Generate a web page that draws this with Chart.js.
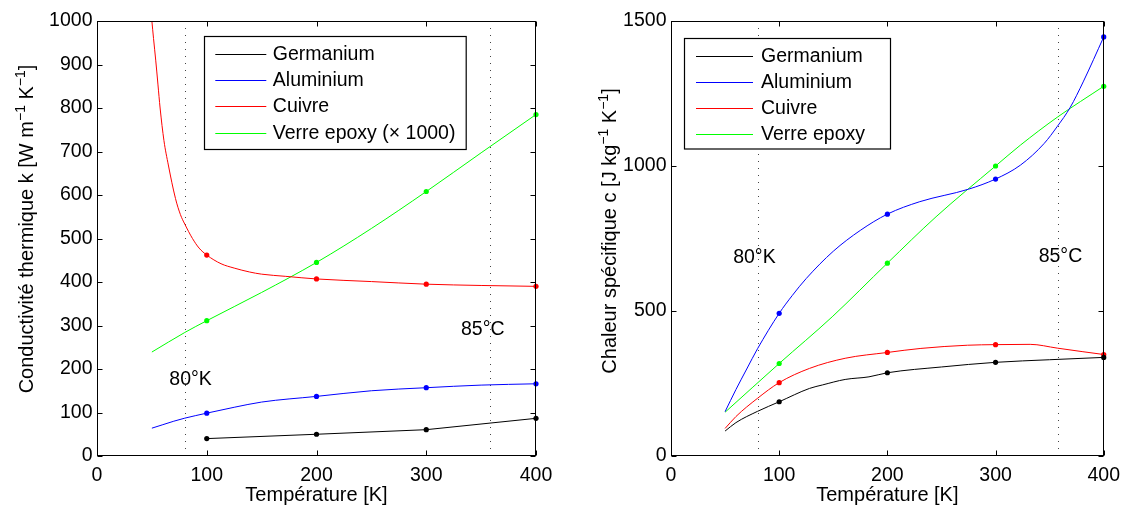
<!DOCTYPE html>
<html><head><meta charset="utf-8">
<script src="https://cdn.jsdelivr.net/npm/chart.js@4.4.1/dist/chart.umd.min.js"></script>
<style>
html,body{margin:0;padding:0;background:#fff;width:1128px;height:507px;overflow:hidden}
canvas{position:absolute;top:0}
#c1{left:0}
#c2{left:564px}
</style></head><body>
<canvas id="c1" width="564" height="507"></canvas>
<canvas id="c2" width="564" height="507"></canvas>
<script>
// ---------- DATA ----------
const xTicks = [0, 100, 200, 300, 400];
const markerT = [100, 200, 300, 400];
const refLinesT = [80, 358.15];

const legendLeft = ['Germanium', 'Aluminium', 'Cuivre', 'Verre epoxy (\u00d7 1000)'];
const legendRight = ['Germanium', 'Aluminium', 'Cuivre', 'Verre epoxy'];

const xTitle = 'Température [K]';
// y titles as [text, isSuperscript] pieces
const yTitleLeft  = [['Conductivité thermique k [W m', false], ['\u22121', true], [' K', false], ['\u22121', true], [']', false]];
const yTitleRight = [['Chaleur spécifique c [J kg', false], ['\u22121', true], [' K', false], ['\u22121', true], [']', false]];

// Left chart: thermal conductivity k
const kGeT = [100, 200, 300, 400];
const kGe  = [40, 50, 60.5, 86.6];
const kAlT = [50, 60, 70, 80, 100, 125, 150, 200, 250, 300, 350, 400];
const kAl  = [64, 72, 80, 87, 98.5, 112, 124, 137, 150, 157, 163, 166];
const kCuT = [50, 51.5, 53.5, 55.5, 57.5, 61, 65, 71.5, 76, 80, 87, 93, 100, 113, 125, 139, 150, 172, 200, 250, 300, 350, 400];
const kCu  = [1000, 960, 910, 855, 800, 725, 669, 592, 555, 533, 500, 478, 462, 442, 432, 423, 418, 413, 407, 401, 395, 392, 390];
const kEpT = [50, 80, 100, 150, 200, 250, 300, 350, 400];
const kEp  = [239, 284, 311, 376, 445, 523, 608, 697, 785];

// Right chart: specific heat c
const cGeT = [50, 60, 80, 100, 128, 140, 161, 183, 200, 250, 300, 350, 400];
const cGe  = [86, 115, 154, 187, 233, 245, 264, 273, 287, 307, 323, 332, 340];
const cAlT = [50, 60, 70, 80, 100, 112, 125, 150, 175, 200, 230, 275, 300, 323, 345, 357, 369, 381, 400];
const cAl  = [153, 229, 300, 370, 492, 553, 612, 706, 778, 834, 877, 920, 955, 1003, 1078, 1136, 1202, 1290, 1445];
const cCuT = [50, 60, 80, 100, 128, 161, 200, 231, 274, 300, 332, 357, 380, 400];
const cCu  = [95, 136, 199, 253, 302, 337, 357, 371, 382, 384, 385, 372, 360, 350];
const cEpT = [50, 100, 149, 200, 245, 300, 323, 357, 400];
const cEp  = [151, 319, 480, 665, 825, 1000, 1072, 1168, 1275];

const annotLeft  = [{t:'80°K', x:85.3, y:174.7}, {t:'85°C', x:351.5, y:291}];
const annotRight = [{t:'80°K', x:77.1, y:684}, {t:'85°C', x:360, y:686}];

// ---------- STYLE ----------
const FONT = "'Liberation Sans', Arial, Helvetica, sans-serif";
const FS = 19.5;
const FT = 20;
const colors = ['#000000', '#0000ff', '#ff0000', '#00ff00'];

function pts(t, v){ return t.map((x,i)=>({x:x, y:v[i]})); }

function makeDatasets(names, series){
  return series.map((s,i)=>({
    label: names[i],
    data: pts(s[0], s[1]),
    borderColor: colors[i],
    backgroundColor: colors[i],
    borderWidth: 1,
    cubicInterpolationMode: s[2] ? 'default' : 'monotone',
    tension: s[2] ? 0 : 0.4,
    pointRadius: ctx => (ctx.raw && markerT.includes(ctx.raw.x)) ? 2.6 : 0,
    pointHoverRadius: 0,
    pointBorderWidth: 0,
    clip: 5
  }));
}

function drawYTitle(ctx, pieces, baseX, cy){
  const sup = FT * 0.7;
  let total = 0;
  const widths = pieces.map(p=>{
    ctx.font = (p[1] ? sup : FT) + 'px ' + FONT;
    const w = ctx.measureText(p[0]).width;
    total += w; return w;
  });
  ctx.save();
  ctx.translate(baseX, cy);
  ctx.rotate(-Math.PI/2);
  ctx.fillStyle = '#000';
  ctx.textAlign = 'left';
  ctx.textBaseline = 'alphabetic';
  let xx = -total/2;
  pieces.forEach((p,i)=>{
    ctx.font = (p[1] ? sup : FT) + 'px ' + FONT;
    ctx.fillText(p[0], xx, p[1] ? -FT*0.42 : 0);
    xx += widths[i];
  });
  ctx.restore();
}

function decorPlugin(opts){
  return {
    id: 'decor',
    beforeDatasetsDraw(chart){
      const {ctx, chartArea:a, scales:{x}} = chart;
      ctx.save();
      ctx.strokeStyle = '#444';
      ctx.lineWidth = 1;
      ctx.setLineDash([1, 6]);
      refLinesT.forEach(v=>{
        const px = Math.round(x.getPixelForValue(v)) + 0.5;
        ctx.beginPath(); ctx.moveTo(px, a.top); ctx.lineTo(px, a.bottom); ctx.stroke();
      });
      ctx.restore();
    },
    afterDraw(chart){
      const {ctx, chartArea:a, scales:{x, y}} = chart;
      ctx.save();
      // y title
      drawYTitle(ctx, opts.yTitle, opts.yTitleX, opts.yTitleY);
      // annotations
      ctx.fillStyle = '#000';
      ctx.font = FS + 'px ' + FONT;
      ctx.textAlign = 'center';
      ctx.textBaseline = 'middle';
      opts.annot.forEach(n=>{
        ctx.fillText(n.t, x.getPixelForValue(n.x), y.getPixelForValue(n.y));
      });
      // frame
      ctx.strokeStyle = '#000';
      ctx.lineWidth = 1;
      const L = Math.round(a.left) + 0.5, R = Math.round(a.right) - 0.5;
      const T = Math.round(a.top) + 0.5, B = Math.round(a.bottom) - 0.5;
      ctx.strokeRect(L, T, R - L, B - T);
      // inward ticks
      const tl = 5;
      ctx.beginPath();
      x.ticks.forEach(t=>{
        const px = Math.round(x.getPixelForValue(t.value)) + 0.5;
        ctx.moveTo(px, B); ctx.lineTo(px, B - tl);
        ctx.moveTo(px, T); ctx.lineTo(px, T + tl);
      });
      y.ticks.forEach(t=>{
        const py = Math.round(y.getPixelForValue(t.value)) + 0.5;
        ctx.moveTo(L, py); ctx.lineTo(L + tl, py);
        ctx.moveTo(R, py); ctx.lineTo(R - tl, py);
      });
      ctx.stroke();
      // legend
      const lg = opts.legend;
      const bx = a.left + lg.dx, by = a.top + lg.dy;
      ctx.fillStyle = '#fff';
      ctx.fillRect(bx, by, lg.w, lg.h);
      ctx.strokeStyle = '#000';
      ctx.lineWidth = 1.2;
      ctx.strokeRect(Math.round(bx)+0.5, Math.round(by)+0.5, lg.w, lg.h);
      ctx.textAlign = 'left';
      ctx.textBaseline = 'middle';
      ctx.font = FS + 'px ' + FONT;
      chart.data.datasets.forEach((d,i)=>{
        const ry = Math.round(by + lg.first + i*lg.step) + 0.5;
        ctx.strokeStyle = d.borderColor;
        ctx.lineWidth = 1;
        ctx.beginPath(); ctx.moveTo(bx + lg.l0, ry); ctx.lineTo(bx + lg.l1, ry); ctx.stroke();
        ctx.fillStyle = '#000';
        ctx.fillText(d.label, bx + lg.tx, ry);
      });
      ctx.restore();
    }
  };
}

function makeChart(id, o){
  return new Chart(document.getElementById(id), {
    type: 'line',
    data: { datasets: o.datasets },
    options: {
      responsive: false,
      animation: false,
      events: [],
      layout: { padding: { left: 0, top: 21, right: o.padRight, bottom: 0 } },
      plugins: { legend: { display: false }, tooltip: { enabled: false } },
      scales: {
        x: {
          type: 'linear', min: 0, max: 400,
          afterBuildTicks: s => { s.ticks = xTicks.map(v=>({value:v})); },
          afterFit: s => { s.height = 51; },
          grid: { display: false, drawTicks: false },
          border: { display: false },
          ticks: { color: '#000', font: { family: FONT, size: FS }, padding: 8, maxRotation: 0, callback: v => String(v) },
          title: { display: true, text: xTitle, color: '#000', font: { family: FONT, size: FT }, padding: { top: 0, bottom: 0 } }
        },
        y: {
          type: 'linear', min: 0, max: o.ymax,
          afterBuildTicks: s => { s.ticks = o.yTicks.map(v=>({value:v})); },
          afterFit: s => { s.width = o.yWidth; },
          grid: { display: false, drawTicks: false },
          border: { display: false },
          ticks: { color: '#000', font: { family: FONT, size: FS }, padding: 4.5, callback: v => String(v) },
          title: { display: false }
        }
      }
    },
    plugins: [decorPlugin(o)]
  });
}

const kYTicks = [0,100,200,300,400,500,600,700,800,900,1000];
const cYTicks = [0,500,1000,1500];

makeChart('c1', {
  datasets: makeDatasets(legendLeft, [[kGeT,kGe,true],[kAlT,kAl],[kCuT,kCu],[kEpT,kEp]]),
  ymax: 1000, yTicks: kYTicks, yWidth: 97, padRight: 28,
  yTitle: yTitleLeft, yTitleX: 33, yTitleY: 229,
  annot: annotLeft,
  legend: { dx: 107.3, dy: 14.5, w: 261.7, h: 113, first: 18, step: 26.4, l0: 11, l1: 62, tx: 68.5 }
});

makeChart('c2', {
  datasets: makeDatasets(legendRight, [[cGeT,cGe],[cAlT,cAl],[cCuT,cCu],[cEpT,cEp]]),
  ymax: 1500, yTicks: cYTicks, yWidth: 107, padRight: 22,
  yTitle: yTitleRight, yTitleX: 52, yTitleY: 231,
  annot: annotRight,
  legend: { dx: 13, dy: 17, w: 206, h: 110.5, first: 17.5, step: 26.2, l0: 12, l1: 69, tx: 77 }
});
</script>
</body></html>
